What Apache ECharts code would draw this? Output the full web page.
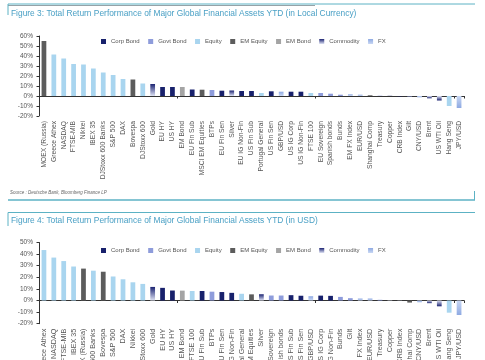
<!DOCTYPE html>
<html><head><meta charset="utf-8">
<script src="https://cdn.jsdelivr.net/npm/echarts@6/dist/echarts.min.js"></script>
<style>html,body{margin:0;padding:0;background:#fff}#c{width:485px;height:360px}</style>
</head><body><div id="c"></div>
<script>
const legendNames = ['Corp Bond','Govt Bond','Equity','EM Equity','EM Bond','Commodity','FX'];

const cats1 = ['MOEX (Russia)','Greece Athex','NASDAQ','FTSE-MIB','Nikkei','IBEX 35','DJStoxx 600 Banks','S&P 500','DAX','Bovespa','DJStoxx 600','Gold','EU HY','US HY','EM Bond','EU Fin Sub','MSCI EM Equities','BTPs','EU Fin Sen','Silver','EU IG Non-Fin','US Fin Sub','Portugal General','US Fin Sen','GBP/USD','US IG Corp','US IG Non-Fin','FTSE 100','EU Sovereign','Spanish bonds','Bunds','EM FX Index','EUR/USD','Shanghai Comp','Treasury','Copper','CRB Index','Gilt','CNY/USD','Brent','US WTI Oil','Hang Seng','JPY/USD'];
const vals1 = [55,41.5,37.5,32,31.5,27.5,23.5,21,17,16.5,12.5,12,9,9,9,6.5,6.3,6,5.3,5.5,5,5,3,4.7,4.3,4.3,4.3,3,3,2.3,1.3,1.7,1.3,0.7,0.3,0.2,-0.3,-0.5,-1.3,-2.3,-4.5,-10,-12];
const types1 = ['EM Equity','Equity','Equity','Equity','Equity','Equity','Equity','Equity','Equity','EM Equity','Equity','Commodity','Corp Bond','Corp Bond','EM Bond','Corp Bond','EM Equity','Govt Bond','Corp Bond','Commodity','Corp Bond','Corp Bond','Equity','Corp Bond','FX','Corp Bond','Corp Bond','Equity','Govt Bond','Govt Bond','Govt Bond','FX','FX','EM Equity','Govt Bond','Commodity','Commodity','Govt Bond','FX','Commodity','Commodity','Equity','FX'];

const cats2 = ['Greece Athex','NASDAQ','FTSE-MIB','IBEX 35','MOEX (Russia)','DJStoxx 600 Banks','Bovespa','S&P 500','DAX','Nikkei','DJStoxx 600','Gold','EU HY','US HY','EM Bond','FTSE 100','EU Fin Sub','BTPs','EU Fin Sen','EU IG Non-Fin','Portugal General','MSCI EM Equities','Silver','EU Sovereign','Spanish bonds','US Fin Sub','US Fin Sen','GBP/USD','US IG Corp','US IG Non-Fin','Bunds','Gilt','EM FX Index','EUR/USD','Treasury','Copper','CRB Index','Shanghai Comp','CNY/USD','Brent','US WTI Oil','Hang Seng','JPY/USD'];
const vals2 = [43.5,37,34,29.3,27.5,25.7,24.8,20.7,18.3,15.7,14.3,11.7,10.9,8.6,8.5,8.2,8.2,7.6,7.3,6.6,5.8,5.3,5.4,4.3,4.3,4.6,4.1,3.7,4.2,4,3.1,2,1.7,1.7,0.6,0.3,-0.2,-1.8,-1.5,-2.3,-5,-10.5,-12.5];
const types2 = ['Equity','Equity','Equity','Equity','EM Equity','Equity','EM Equity','Equity','Equity','Equity','Equity','Commodity','Corp Bond','Corp Bond','EM Bond','Equity','Corp Bond','Govt Bond','Corp Bond','Corp Bond','Equity','EM Equity','Commodity','Govt Bond','Govt Bond','Corp Bond','Corp Bond','FX','Corp Bond','Corp Bond','Govt Bond','Govt Bond','FX','FX','Govt Bond','Commodity','Commodity','EM Equity','FX','Commodity','Commodity','Equity','FX'];

const title1 = 'Figure 3: Total Return Performance of Major Global Financial Assets YTD (in Local Currency)';
const title2 = 'Figure 4: Total Return Performance of Major Global Financial Assets YTD (in USD)';
const sourceText = 'Source : Deutsche Bank, Bloomberg Finance LP';
const yRange1 = [-20, 60];
const yRange2 = [-20, 50];
const yStep = 10;

const solid = {'Corp Bond':'#18216c','Govt Bond':'#8e9cdb','Equity':'#a9d5ef','EM Equity':'#5c5c5c','EM Bond':'#a4a4a4'};
const gradStops = {'Commodity':['#1b2372','#dfe3f4'],'FX':['#8ea9e2','#c9d8f4']};
function grad(name, v) {
  const [far, near] = gradStops[name];
  const s = v >= 0 ? [far, near] : [near, far];
  return new echarts.graphic.LinearGradient(0,0,0,1,[{offset:0,color:s[0]},{offset:1,color:s[1]}]);
}
function colorFor(name, v) { return solid[name] || grad(name, v); }

const FONT = 'Liberation Sans';
const chart = echarts.init(document.getElementById('c'), null, {renderer:'canvas'});

function mkSeries(vals, types, gi) {
  return legendNames.map(name => ({
    name, type:'bar', xAxisIndex: gi*2, yAxisIndex: gi, stack:'s'+gi,
    barWidth:'48%', animation:false,
    itemStyle:{color: colorFor(name, 1)},
    data: vals.map((v,i) => types[i] === name ? {value:v, itemStyle:{color: colorFor(name, v)}} : '-')
  }));
}
function xAxes(cats, gi, fs) {
  return [
    {type:'category', gridIndex:gi, data:cats, axisLine:{onZero:true, lineStyle:{color:'#333', width:1}},
     axisTick:{show:true, length:2.5, lineStyle:{color:'#333'}}, axisLabel:{show:false}},
    {type:'category', gridIndex:gi, data:cats, position:'bottom', axisLine:{show:false, onZero:false}, axisTick:{show:false},
     axisLabel:{show:true, interval:0, rotate:90, margin:5, fontSize:fs, color:'#555', fontFamily:FONT}}
  ];
}
function yAxis(r, gi) {
  return {type:'value', gridIndex:gi, min:r[0], max:r[1], interval:yStep,
    axisLine:{show:true, lineStyle:{color:'#333'}}, axisTick:{show:true, length:2.5, lineStyle:{color:'#333'}},
    splitLine:{show:false},
    axisLabel:{formatter:'{value}%', fontSize:6.5, color:'#555', margin:6, fontFamily:FONT}};
}
function legend(top) {
  return {data:legendNames, left:96, top, itemWidth:5, itemHeight:5, itemGap:8.5, icon:'rect',
    textStyle:{fontSize:6, color:'#555', fontFamily:FONT}};
}
const teal = '#5cb2c4';
chart.setOption({
  animation:false,
  textStyle:{fontFamily:FONT},
  grid:[{left:39, right:21, top:36, height:80, outerBoundsMode:'none', containLabel:false},
        {left:39, right:21, top:242.5, height:81.2, outerBoundsMode:'none', containLabel:false}],
  xAxis:[...xAxes(cats1,0,6.7), ...xAxes(cats2,1,7.2)],
  yAxis:[yAxis(yRange1,0), yAxis(yRange2,1)],
  legend:[legend(33.5), legend(242.5)],
  series:[...mkSeries(vals1, types1, 0), ...mkSeries(vals2, types2, 1)],
  graphic:[
    {type:'line', shape:{x1:8,y1:4,x2:475,y2:4}, style:{stroke:teal, lineWidth:1}},
    {type:'line', shape:{x1:8,y1:5.5,x2:315,y2:5.5}, style:{stroke:'#7a8a90', lineWidth:0.8}},
    {type:'line', shape:{x1:8,y1:4,x2:8,y2:15}, style:{stroke:teal, lineWidth:1}},
    {type:'text', left:11, top:9.5, style:{text:title1, fill:'#4aa0c5', font:'8.4px "Liberation Sans"'}},
    {type:'text', left:10, top:190.5, style:{text:sourceText, fill:'#666', font:'italic 4.5px "Liberation Sans"'}},
    {type:'line', shape:{x1:8,y1:200,x2:475,y2:200}, style:{stroke:teal, lineWidth:1.5}},
    {type:'line', shape:{x1:474.5,y1:191,x2:474.5,y2:200}, style:{stroke:teal, lineWidth:1}},
    {type:'line', shape:{x1:8,y1:212.5,x2:475,y2:212.5}, style:{stroke:teal, lineWidth:1}},
    {type:'line', shape:{x1:8,y1:212.5,x2:8,y2:226}, style:{stroke:teal, lineWidth:1}},
    {type:'text', left:11, top:217, style:{text:title2, fill:'#4aa0c5', font:'8.4px "Liberation Sans"'}}
  ]
});
</script></body></html>
